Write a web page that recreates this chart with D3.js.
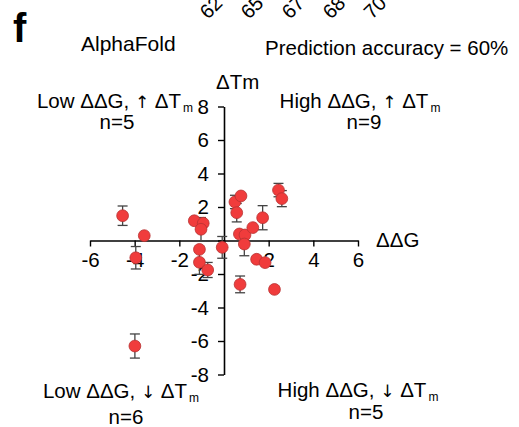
<!DOCTYPE html>
<html>
<head>
<meta charset="utf-8">
<script src="https://cdn.jsdelivr.net/npm/d3@7"></script>
<style>
  body { margin: 0; background: #fff; }
  svg { display: block; font-family: "Liberation Sans", Arial, sans-serif; }
  .arrow { font-family: "DejaVu Sans", sans-serif; font-size: 17px; }
</style>
</head>
<body>
<svg id="chart" width="519" height="427"></svg>
<script>
// AlphaFold panel: ddG vs dTm scatter with error bars

// data
const ddg = [-4.54, -3.57, -1.33, -0.93, -1.03,
             -3.95, -1.10, -1.10, -0.73, -0.08, -3.99,
              0.49,  0.76,  0.57,  0.69,  0.94,  1.29,  1.73,  2.44,  2.59,
              0.91,  1.46,  1.84,  0.72,  2.26];
const dtm = [ 1.48,  0.29,  1.18,  1.03,  0.67,
             -1.03, -0.53, -1.30, -1.76, -0.41, -6.30,
              2.30,  2.66,  1.66,  0.39,  0.33,  0.77,  1.36,  3.01,  2.50,
             -0.21, -1.12, -1.32, -2.62, -2.92];
const dtmErr = [0.58, 0, 0, 0, 0.70,
                0.67, 0, 0.72, 0.45, 0.65, 0.72,
                0.40, 0, 0.55, 0, 0, 0, 0.72, 0.40, 0.48,
                0.70, 0, 0, 0.50, 0];

const xTicks = [-6, -4, -2, 0, 2, 4, 6];
const yTicks = [-8, -6, -4, -2, 0, 2, 4, 6, 8];

// quadrant captions: ddG part, arrow, n
const quadText = ["Low \u0394\u0394G,", "High \u0394\u0394G,", "Low \u0394\u0394G,", "High \u0394\u0394G,"];
const quadArrow = ["\u2191", "\u2191", "\u2193", "\u2193"];
const quadN = [5, 9, 6, 5];

// cut-off labels of the panel above
const topLabels = ["62", "65", "67", "68", "70"];

const svg = d3.select("#chart");

const x = d3.scaleLinear().domain([-6, 6]).range([90, 358]);
const y = d3.scaleLinear().domain([-8, 8]).range([374.5, 106.5]);

const fmt = d => (d === 0 ? "" : String(d));

// axes cross at the origin
const xAxis = svg.append("g")
    .attr("transform", `translate(0,${y(0)})`)
    .call(d3.axisBottom(x).tickValues(xTicks).tickFormat(fmt)
        .tickSize(6).tickSizeOuter(0).tickPadding(6));

const yAxis = svg.append("g")
    .attr("transform", `translate(${x(0)},0)`)
    .call(d3.axisLeft(y).tickValues(yTicks).tickFormat(fmt)
        .tickSize(6).tickSizeOuter(0).tickPadding(9));

[xAxis, yAxis].forEach(g => {
    g.attr("font-family", null).attr("font-size", null);
    g.select(".domain").attr("stroke", "#000").attr("stroke-width", 1.6);
    g.selectAll(".tick line").attr("stroke", "#000").attr("stroke-width", 1.4);
    g.selectAll(".tick text").attr("fill", "#000").style("font-size", "20.5px");
});

svg.append("text").attr("x", 216).attr("y", 89)
    .style("font-size", "20.5px").text("\u0394Tm");
svg.append("text").attr("x", 376).attr("y", 247)
    .style("font-size", "20.5px").text("\u0394\u0394G");

// error bars under the dots
const pts = ddg.map((d, i) => ({ x: d, y: dtm[i], e: dtmErr[i] }));
const bars = svg.append("g").attr("stroke", "#444").attr("stroke-width", 1.3)
    .selectAll("g").data(pts.filter(p => p.e > 0)).join("g");
bars.append("line")
    .attr("x1", p => x(p.x)).attr("x2", p => x(p.x))
    .attr("y1", p => y(p.y + p.e)).attr("y2", p => y(p.y - p.e));
bars.append("line")
    .attr("x1", p => x(p.x) - 5).attr("x2", p => x(p.x) + 5)
    .attr("y1", p => y(p.y + p.e)).attr("y2", p => y(p.y + p.e));
bars.append("line")
    .attr("x1", p => x(p.x) - 5).attr("x2", p => x(p.x) + 5)
    .attr("y1", p => y(p.y - p.e)).attr("y2", p => y(p.y - p.e));

svg.append("g").selectAll("circle").data(pts).join("circle")
    .attr("cx", p => x(p.x)).attr("cy", p => y(p.y)).attr("r", 5.9)
    .attr("fill", "#f03c3c").attr("stroke", "#b83232").attr("stroke-width", 0.8);

// quadrant captions: [text centre, baseline, n centre, n baseline]
const quadPos = [[115, 108, 117, 129], [360, 108, 364, 129],
                 [121, 398, 126, 424], [358, 397, 366, 419]];
quadText.forEach((t, i) => {
    const [cx, y1, nx, y2] = quadPos[i];
    const tx = svg.append("text").attr("x", cx).attr("y", y1)
        .attr("text-anchor", "middle").style("font-size", "20.5px").attr("fill", "#000");
    tx.append("tspan").text(t + " ");
    tx.append("tspan").attr("class", "arrow").text(quadArrow[i]);
    tx.append("tspan").text(" \u0394T");
    tx.append("tspan").attr("dx", 2).attr("dy", 4).style("font-size", "12px").text("m");
    svg.append("text").attr("x", nx).attr("y", y2)
        .attr("text-anchor", "middle").style("font-size", "20.5px").text("n=" + quadN[i]);
});

// panel letter and titles
svg.append("text").attr("x", 13).attr("y", 42)
    .style("font-size", "40px").style("font-weight", "bold").text("f");
svg.append("text").attr("x", 81).attr("y", 51)
    .style("font-size", "21px").text("AlphaFold");
svg.append("text").attr("x", 265).attr("y", 55)
    .style("font-size", "20.5px").text("Prediction accuracy = 60%");

// rotated labels cut at the top edge
const tx = d3.scalePoint().domain(topLabels).range([208, 372]);
svg.append("g").selectAll("text").data(topLabels).join("text")
    .attr("transform", d => `translate(${tx(d)},20) rotate(-45)`)
    .style("font-size", "20px").text(d => d);
</script>
</body>
</html>
